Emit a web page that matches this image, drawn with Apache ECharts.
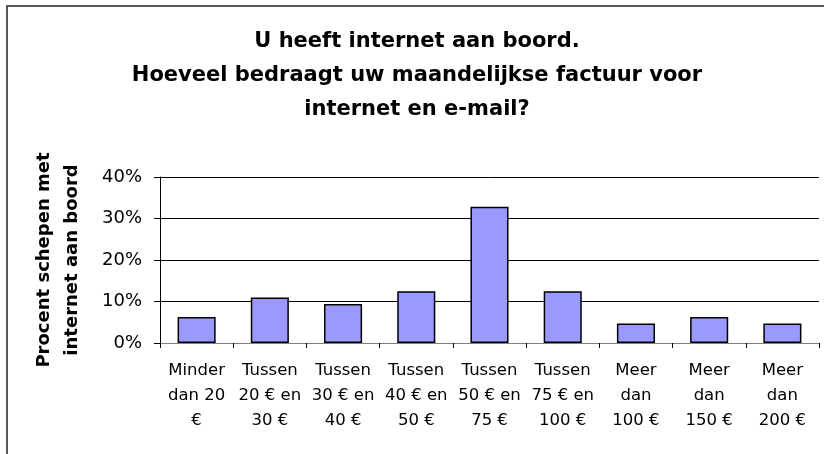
<!DOCTYPE html>
<html>
<head>
<meta charset="utf-8">
<script src="https://cdn.jsdelivr.net/npm/echarts@6/dist/echarts.min.js"></script>
<style>
html,body{margin:0;padding:0;background:#fff;}
#chart{width:824px;height:454px;}
</style>
</head>
<body>
<div id="chart"></div>
<script>
const titleText = 'U heeft internet aan boord.\nHoeveel bedraagt uw maandelijkse factuur voor\ninternet en e-mail?';
const yAxisTitle = 'Procent schepen met\ninternet aan boord';
const categories = [
  'Minder\ndan 20\n€',
  'Tussen\n20 € en\n30 €',
  'Tussen\n30 € en\n40 €',
  'Tussen\n40 € en\n50 €',
  'Tussen\n50 € en\n75 €',
  'Tussen\n75 € en\n100 €',
  'Meer\ndan\n100 €',
  'Meer\ndan\n150 €',
  'Meer\ndan\n200 €'
];
const percentValues = [6.25, 10.94, 9.38, 12.5, 32.81, 12.5, 4.69, 6.25, 4.69];
const yTicks = [0, 10, 20, 30, 40];

const FONT = '"DejaVu Sans", sans-serif';
const chart = echarts.init(document.getElementById('chart'), null, {renderer: 'canvas'});
chart.setOption({
  animation: false,
  backgroundColor: '#fff',
  graphic: [{
    type: 'rect',
    shape: {x: 7, y: 6, width: 840, height: 470},
    style: {fill: 'none', stroke: '#222', lineWidth: 1.5},
    silent: true,
    z: -1
  }],
  title: {
    text: titleText,
    left: 412,
    textAlign: 'center',
    top: 20,
    textStyle: {fontFamily: FONT, fontSize: 21, fontWeight: 'bold', color: '#000', lineHeight: 34}
  },
  grid: {left: 160, right: 5, top: 177, height: 166, containLabel: false},
  xAxis: {
    type: 'category',
    data: categories,
    axisLine: {lineStyle: {color: '#808080', width: 1}},
    axisTick: {show: true, length: 5, lineStyle: {color: '#000'}},
    axisLabel: {fontFamily: FONT, fontSize: 16.5, color: '#000', lineHeight: 25, margin: 15, interval: 0}
  },
  yAxis: {
    type: 'value',
    min: yTicks[0],
    max: yTicks[yTicks.length - 1],
    interval: 10,
    name: yAxisTitle,
    nameLocation: 'middle',
    nameRotate: 90,
    nameGap: 74,
    nameTextStyle: {fontFamily: FONT, fontSize: 18, fontWeight: 'bold', color: '#000', lineHeight: 28},
    axisLine: {show: true, lineStyle: {color: '#000', width: 1}},
    axisTick: {show: true, length: 6, lineStyle: {color: '#000'}},
    axisLabel: {fontFamily: FONT, fontSize: 18, color: '#000', margin: 18, formatter: '{value}%'},
    splitLine: {show: true, lineStyle: {color: '#000', width: 1}}
  },
  series: [{
    type: 'bar',
    data: percentValues,
    barWidth: '52%',
    itemStyle: {color: '#9999FF', borderColor: '#000', borderWidth: 1.5}
  }]
});
</script>
</body>
</html>
